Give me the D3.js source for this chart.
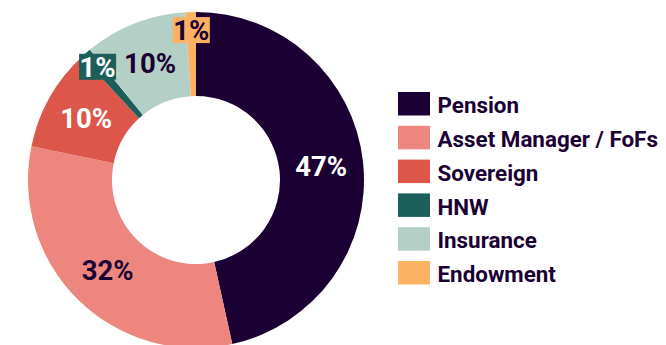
<!DOCTYPE html>
<html>
<head>
<meta charset="utf-8">
<script src="https://cdn.jsdelivr.net/npm/d3@7"></script>
<style>
  html, body { margin: 0; padding: 0; background: #ffffff; }
  svg { display: block; font-family: Roboto, "Noto Sans", sans-serif; }
</style>
</head>
<body>
<svg id="chart" width="666" height="345"></svg>
<script>
// Investor types and their share of the total (%)
const categories = ["Pension", "Asset Manager / FoFs", "Sovereign", "HNW", "Insurance", "Endowment"];
const shares = [47, 32, 10, 1, 10, 1];
const colors = ["#1b0033", "#ec867f", "#dc574a", "#1b5e5a", "#b4d0c6", "#fdb162"];
const labelColors = ["#ffffff", "#1b0033", "#ffffff", "#ffffff", "#1b0033", "#1b0033"];

const ink = "#1b0033";
const svg = d3.select("#chart");

const cx = 196, cy = 180;
const outerR = 168, innerR = 84;

const data = categories.map((name, i) => ({ name, value: shares[i], color: colors[i], labelColor: labelColors[i] }));

const pie = d3.pie().value(d => d.value).sort(null);
const arcs = pie(data);
const arc = d3.arc().innerRadius(innerR).outerRadius(outerR);

const g = svg.append("g").attr("transform", `translate(${cx},${cy})`);

g.selectAll("path.slice")
  .data(arcs)
  .join("path")
  .attr("class", "slice")
  .attr("d", arc)
  .attr("fill", d => d.data.color);

// Percentage labels: big slices at the ring centroid, tiny slices pushed outward on a boxed tag
const smallArc = d3.arc().innerRadius(150).outerRadius(150);
const labels = g.selectAll("g.label")
  .data(arcs)
  .join("g")
  .attr("class", "label")
  .attr("transform", d => {
    const small = d.data.value < 5;
    const [x, y] = (small ? smallArc : arc).centroid(d);
    return `translate(${x},${y})`;
  });

labels.filter(d => d.data.value < 5)
  .append("rect")
  .attr("x", -18.5).attr("y", -13)
  .attr("width", 37).attr("height", 26)
  .attr("fill", d => d.data.color);

labels.append("text")
  .attr("text-anchor", "middle")
  .attr("dy", "0.36em")
  .attr("font-size", 27.5)
  .attr("font-weight", 700)
  .attr("fill", d => d.data.labelColor)
  .text(d => d.data.value + "%");

// Legend
const legend = svg.append("g").attr("transform", "translate(398,92)");
const rowH = 33.8;
const rows = legend.selectAll("g")
  .data(data)
  .join("g")
  .attr("transform", (d, i) => `translate(0,${i * rowH})`);

rows.append("rect")
  .attr("width", 32).attr("height", 23.5)
  .attr("fill", d => d.color);

rows.append("text")
  .attr("x", 39.5)
  .attr("y", 21.2)
  .attr("font-size", 22.4)
  .attr("font-weight", 700)
  .attr("fill", ink)
  .text(d => d.name);
</script>
</body>
</html>
